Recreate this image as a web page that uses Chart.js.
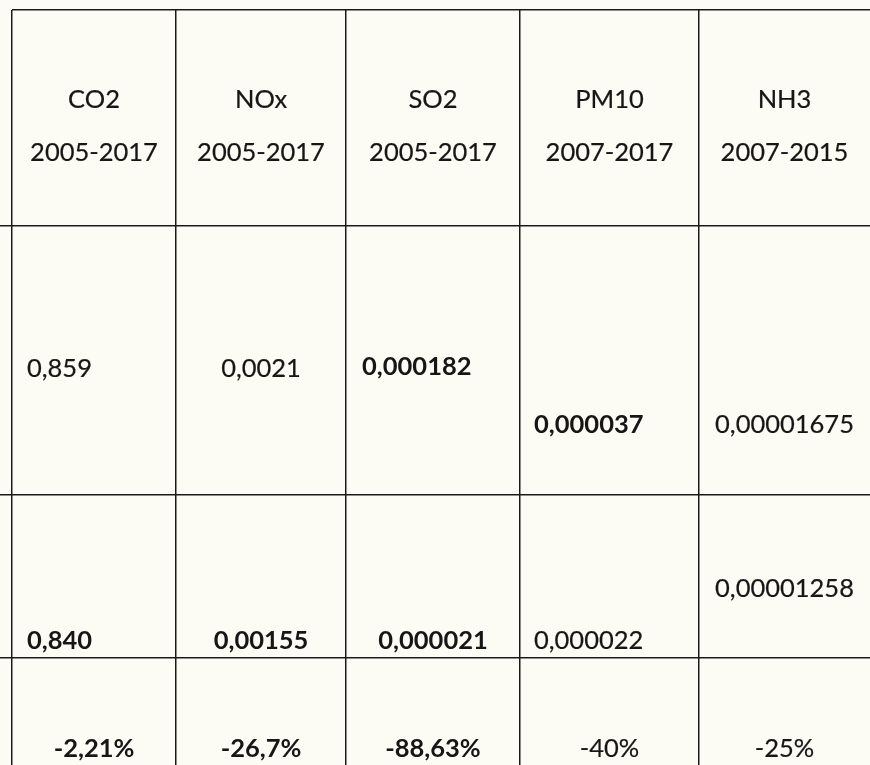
<!DOCTYPE html>
<html lang="en">
<head>
    <meta charset="UTF-8">
    <title>Emissions table</title>
    <script src="https://cdn.jsdelivr.net/npm/chart.js@4.4.3/dist/chart.umd.min.js"></script>
    <style>
        body { margin: 0; background: #fcfcf5; }
        #wrap { width: 870px; height: 765px; position: relative; }
    </style>
</head>
<body>
<div id="wrap"><canvas id="chart"></canvas></div>
<script>
// table content
const pollutants = ['CO2', 'NOx', 'SO2', 'PM10', 'NH3'];
const periods = ['2005-2017', '2005-2017', '2005-2017', '2007-2017', '2007-2015'];
const startValues = ['0,859', '0,0021', '0,000182', '0,000037', '0,00001675'];
const endValues = ['0,840', '0,00155', '0,000021', '0,000022', '0,00001258'];
const changes = ['-2,21%', '-26,7%', '-88,63%', '-40%', '-25%'];

// layout (px of the scan): column widths, row heights, where text sits in a cell
const colWidths = [164, 170, 174, 179, 171];
const rowHeights = [216, 269, 163, 107];
const lineColor = '#1a1a1a';
const textColor = '#161616';
const fontFamily = 'Lato, "Open Sans", sans-serif';
const fontSize = 25.5;

const rowsLayout = [
    { texts: pollutants, dy: [89, 89, 89, 89, 89], align: 'ccccc', bold: [0, 0, 0, 0, 0] },
    { texts: periods, dy: [142, 142, 142, 142, 142], align: 'ccccc', bold: [0, 0, 0, 0, 0] },
    { row: 1, texts: startValues, dy: [142, 142, 140, 198, 198], align: 'lcllc', bold: [0, 0, 1, 1, 0] },
    { row: 2, texts: endValues, dy: [145, 145, 145, 145, 93], align: 'lcclc', bold: [1, 1, 1, 0, 0] },
    { row: 3, texts: changes, dy: [90, 90, 90, 90, 90], align: 'ccccc', bold: [1, 1, 1, 0, 0] }
];
const leftPad = [15, 15, 16, 14, 15];

function edges(sizes) {
    const out = [0];
    sizes.forEach(s => out.push(out[out.length - 1] + s));
    return out;
}
const colEdges = edges(colWidths);
const rowEdges = edges(rowHeights);

const tableText = {
    id: 'tableText',
    afterDraw(chart) {
        const ctx = chart.ctx;
        const x = chart.scales.x;
        const y = chart.scales.y;
        ctx.save();
        ctx.fillStyle = textColor;
        ctx.strokeStyle = textColor;
        ctx.lineWidth = 0.2;
        ctx.textBaseline = 'alphabetic';
        const cap = fontSize * 0.72;
        rowsLayout.forEach(line => {
            const r = line.row || 0;
            line.texts.forEach((t, c) => {
                ctx.font = (line.bold[c] ? 'bold ' : '') + fontSize + 'px ' + fontFamily;
                const left = x.getPixelForValue(colEdges[c]);
                const right = x.getPixelForValue(colEdges[c + 1]);
                const top = y.getPixelForValue(rowEdges[r]);
                const py = top + line.dy[c] + cap / 2;
                let px;
                if (line.align[c] === 'l') {
                    ctx.textAlign = 'left';
                    px = left + leftPad[c];
                } else {
                    ctx.textAlign = 'center';
                    px = (left + right) / 2;
                }
                ctx.fillText(t, px, py);
                if (!line.bold[c]) ctx.strokeText(t, px, py);
            });
        });
        ctx.restore();
    }
};

new Chart(document.getElementById('chart'), {
    type: 'scatter',
    data: { datasets: [] },
    options: {
        responsive: true,
        maintainAspectRatio: false,
        animation: false,
        events: [],
        layout: { padding: { top: 10, left: 0, right: 0, bottom: 0 } },
        plugins: { legend: { display: false }, tooltip: { enabled: false } },
        scales: {
            x: {
                type: 'linear',
                min: 0,
                max: colEdges[colEdges.length - 1],
                afterBuildTicks: s => { s.ticks = colEdges.slice(0, -1).map(v => ({ value: v })); },
                ticks: { display: false },
                border: { display: false },
                grid: { color: lineColor, lineWidth: 1.5, drawTicks: false }
            },
            y: {
                type: 'linear',
                reverse: true,
                min: 0,
                max: 755,
                afterBuildTicks: s => { s.ticks = rowEdges.slice(0, -1).map(v => ({ value: v })); },
                ticks: { display: false },
                border: { display: false },
                grid: {
                    color: lineColor,
                    lineWidth: 1.5,
                    drawTicks: true,
                    tickLength: 12,
                    tickColor: c => c.index === 0 ? 'rgba(0,0,0,0)' : lineColor
                }
            }
        }
    },
    plugins: [tableText]
});
</script>
</body>
</html>
